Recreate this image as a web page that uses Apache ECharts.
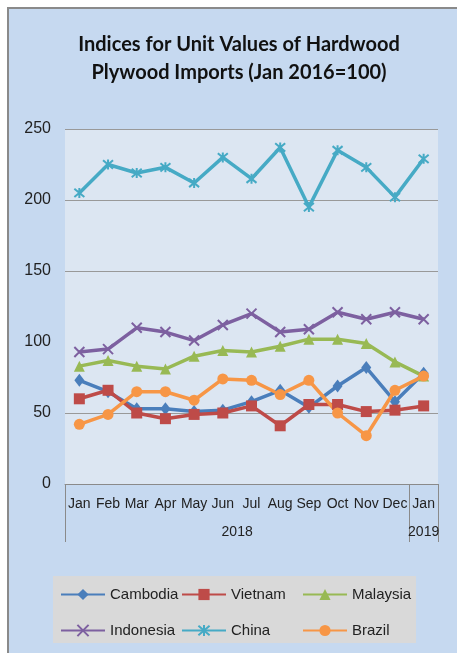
<!DOCTYPE html>
<html>
<head>
<meta charset="utf-8">
<script src="https://cdn.jsdelivr.net/npm/echarts@6/dist/echarts.min.js"></script>
<style>
  html, body { margin: 0; padding: 0; background: #fff; }
  #chart { width: 457px; height: 653px; }
</style>
</head>
<body>
<div id="chart"></div>
<script>
var months = ['Jan', 'Feb', 'Mar', 'Apr', 'May', 'Jun', 'Jul', 'Aug', 'Sep', 'Oct', 'Nov', 'Dec', 'Jan'];
var yearLabels = ['2018', '2019'];
var yearCounts = [12, 1];
var yTicks = [0, 50, 100, 150, 200, 250];

var cambodia  = [73, 65, 53, 53, 51, 52, 58, 66, 54, 69, 82, 58, 78];
var vietnam   = [60, 66, 50, 46, 49, 50, 55, 41, 56, 56, 51, 52, 55];
var malaysia  = [83, 87, 83, 81, 90, 94, 93, 97, 102, 102, 99, 86, 76];
var indonesia = [93, 95, 110, 107, 101, 112, 120, 107, 109, 121, 116, 121, 116];
var china     = [205, 225, 219, 223, 212, 230, 215, 237, 195, 235, 223, 202, 229];
var brazil    = [42, 49, 65, 65, 59, 74, 73, 63, 73, 50, 34, 66, 76];

// year group centres / boundaries in category units
var yearPos = [], yearEdges = [-0.5], start = 0;
yearCounts.forEach(function (n) {
  yearPos.push(start + (n - 1) / 2);
  start += n;
  yearEdges.push(start - 0.5);
});

var font = '"Liberation Sans", Arial, sans-serif';
var cross = 'path://M0,0 L10,10 M10,0 L0,10';
var star = 'path://M0,0 L10,10 M10,0 L0,10 M5,-1 L5,11';

function line(name, data, color, symbol, size, stroke) {
  return {
    name: name,
    type: 'line',
    data: data,
    symbol: symbol,
    symbolSize: size,
    lineStyle: { color: color, width: 3.5 },
    itemStyle: { color: color, borderColor: color, borderWidth: stroke ? 2 : 0 },
    emphasis: { disabled: true }
  };
}

var legendText = { fontFamily: font, fontSize: 15, color: '#222' };

var chart = echarts.init(document.getElementById('chart'));
chart.setOption({
  backgroundColor: '#fff',
  animation: false,
  title: {
    text: 'Indices for Unit Values of Hardwood\nPlywood Imports (Jan 2016=100)',
    left: 234,
    top: 26,
    textAlign: 'center',
    textStyle: { fontFamily: 'Lato, "Open Sans", sans-serif', fontWeight: 'bold', fontSize: 20, lineHeight: 28, color: '#111' }
  },
  graphic: [
    { type: 'rect', z: -10, shape: { x: 8, y: 8, width: 470, height: 670 },
      style: { fill: '#c6d9f0', stroke: '#8a8a8a', lineWidth: 2 } },
    { type: 'rect', z: -5, shape: { x: 53, y: 576, width: 363, height: 67 },
      style: { fill: '#d9d9d9' } }
  ],
  grid: { left: 65, right: 19, top: 129, bottom: 169, show: true, backgroundColor: '#dce6f2', borderWidth: 0 },
  legend: [
    { data: ['Cambodia', 'Indonesia'], left: 55, top: 582, orient: 'vertical', itemWidth: 44, itemHeight: 14, itemGap: 21, textStyle: legendText },
    { data: ['Vietnam', 'China'], left: 176, top: 582, orient: 'vertical', itemWidth: 44, itemHeight: 14, itemGap: 21, textStyle: legendText },
    { data: ['Malaysia', 'Brazil'], left: 297, top: 582, orient: 'vertical', itemWidth: 44, itemHeight: 14, itemGap: 21, textStyle: legendText }
  ],
  xAxis: [
    {
      type: 'category',
      data: months,
      boundaryGap: true,
      axisLine: { lineStyle: { color: '#8a8a8a', width: 1 } },
      axisTick: { show: false },
      axisLabel: { interval: 0, margin: 13, fontFamily: font, fontSize: 14, color: '#222' }
    },
    {
      type: 'value',
      position: 'bottom',
      min: -0.5,
      max: 12.5,
      axisLine: { show: false },
      splitLine: { show: false },
      axisTick: { show: true, customValues: yearEdges, length: 58, lineStyle: { color: '#8a8a8a' } },
      axisLabel: {
        customValues: yearPos, margin: 41, fontFamily: font, fontSize: 14, color: '#222',
        formatter: function (v) { return yearLabels[yearPos.indexOf(v)]; }
      }
    }
  ],
  yAxis: {
    type: 'value',
    min: yTicks[0],
    max: yTicks[yTicks.length - 1],
    interval: 50,
    axisLine: { show: false },
    axisTick: { show: false },
    axisLabel: { margin: 14, fontFamily: font, fontSize: 16, color: '#222' },
    splitLine: { lineStyle: { color: ['#999', '#999', 'rgba(0,0,0,0)', '#999', '#999', '#999'], width: 1 } }
  },
  series: [
    line('Cambodia', cambodia, '#4a7ebb', 'diamond', [10, 13], false),
    line('Vietnam', vietnam, '#be4b48', 'rect', 11, false),
    line('Malaysia', malaysia, '#98b954', 'triangle', 11, false),
    line('Indonesia', indonesia, '#7d60a0', cross, 10, true),
    line('China', china, '#46aac5', star, 10, true),
    line('Brazil', brazil, '#f79646', 'circle', 11, false)
  ]
});
</script>
</body>
</html>
